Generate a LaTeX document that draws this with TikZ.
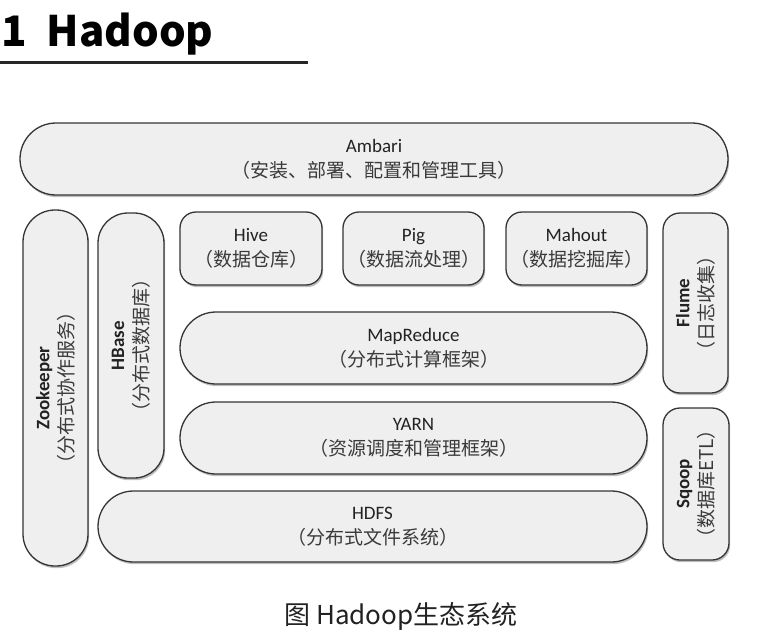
\documentclass[tikz,border=0pt]{standalone}
\usepackage{fontspec}
\setmainfont{Carlito}
\newfontfamily\cjk{Noto Sans CJK SC}
\usetikzlibrary{shadows}
\definecolor{boxfill}{HTML}{EFEFEF}
\definecolor{boxline}{HTML}{353535}
\definecolor{txtdark}{HTML}{222222}
\definecolor{txtcn}{HTML}{3A3A3A}
\newcommand\twol[2]{#1\\{\cjk\color{txtcn}\fontsize{19}{25}\selectfont #2}}
\newcommand\twob[2]{{\bfseries #1}\\{\cjk\color{txtcn}\fontsize{19}{24}\selectfont #2}}
\tikzset{
  layer/.style={draw=boxline, line width=1.3pt, fill=boxfill, inner sep=0pt,
    align=center, text=txtdark, font=\fontsize{19}{25}\selectfont,
    drop shadow={shadow xshift=1.2pt, shadow yshift=-2.2pt, fill=black!55, opacity=0.45}},
  vlayer/.style={layer, rotate=90, font=\fontsize{19}{24}\selectfont}
}
\begin{document}
\begin{tikzpicture}[x=1pt,y=-1pt]
\useasboundingbox (0,0) rectangle (769,637);
\fill[white] (0,0) rectangle (769,637);
% title
\node[anchor=base west, inner sep=0pt, font=\cjk\bfseries\fontsize{42}{48}\selectfont] (title) at (1,46) {1\hspace{20pt}Hadoop};
\coordinate (ul1) at (0,62);
\coordinate (ul2) at (308,62);
\draw[line width=3pt, black!85] (ul1) -- (ul2);
% top
\node[layer, minimum width=708pt, minimum height=72pt, rounded corners=36pt] (ambari) at (374,159)
  {\twol{Ambari}{（安装、部署、配置和管理工具）}};
% left columns
\node[vlayer, minimum width=356pt, minimum height=65pt, rounded corners=32pt] (zoo) at (55.5,388)
  {\twob{Zookeeper}{（分布式协作服务）}};
\node[vlayer, minimum width=265pt, minimum height=66pt, rounded corners=30pt] (hbase) at (131,345.5)
  {\twob{HBase}{（分布式数据库）}};
% upper row
\node[layer, minimum width=142pt, minimum height=73pt, rounded corners=16pt] (hive) at (251,248.5)
  {\twol{Hive}{（数据仓库）}};
\node[layer, minimum width=141pt, minimum height=73pt, rounded corners=16pt] (pig) at (413.5,248.5)
  {\twol{Pig}{（数据流处理）}};
\node[layer, minimum width=141pt, minimum height=73pt, rounded corners=16pt] (mahout) at (576.5,248.5)
  {\twol{Mahout}{（数据挖掘库）}};
% middle layers
\node[layer, minimum width=467pt, minimum height=72pt, rounded corners=36pt] (mapr) at (413.5,348)
  {\twol{MapReduce}{（分布式计算框架）}};
\node[layer, minimum width=467pt, minimum height=72pt, rounded corners=36pt] (yarn) at (413.5,438)
  {\twol{YARN}{（资源调度和管理框架）}};
\node[layer, minimum width=549pt, minimum height=71pt, rounded corners=35.5pt] (hdfs) at (372.5,526.5)
  {\twol{HDFS}{（分布式文件系统）}};
% right column
\node[vlayer, minimum width=180pt, minimum height=65pt, rounded corners=17pt] (flume) at (695.5,303)
  {\twob{Flume}{（日志收集）}};
\node[vlayer, minimum width=152pt, minimum height=66pt, rounded corners=17pt] (sqoop) at (696,484)
  {\twob{Sqoop}{（数据库ETL）}};
% caption
\node[anchor=base, inner sep=0pt, text=txtdark, font=\cjk\fontsize{26}{30}\selectfont] (cap) at (401,624) {图 Hadoop生态系统};
\end{tikzpicture}
\end{document}
